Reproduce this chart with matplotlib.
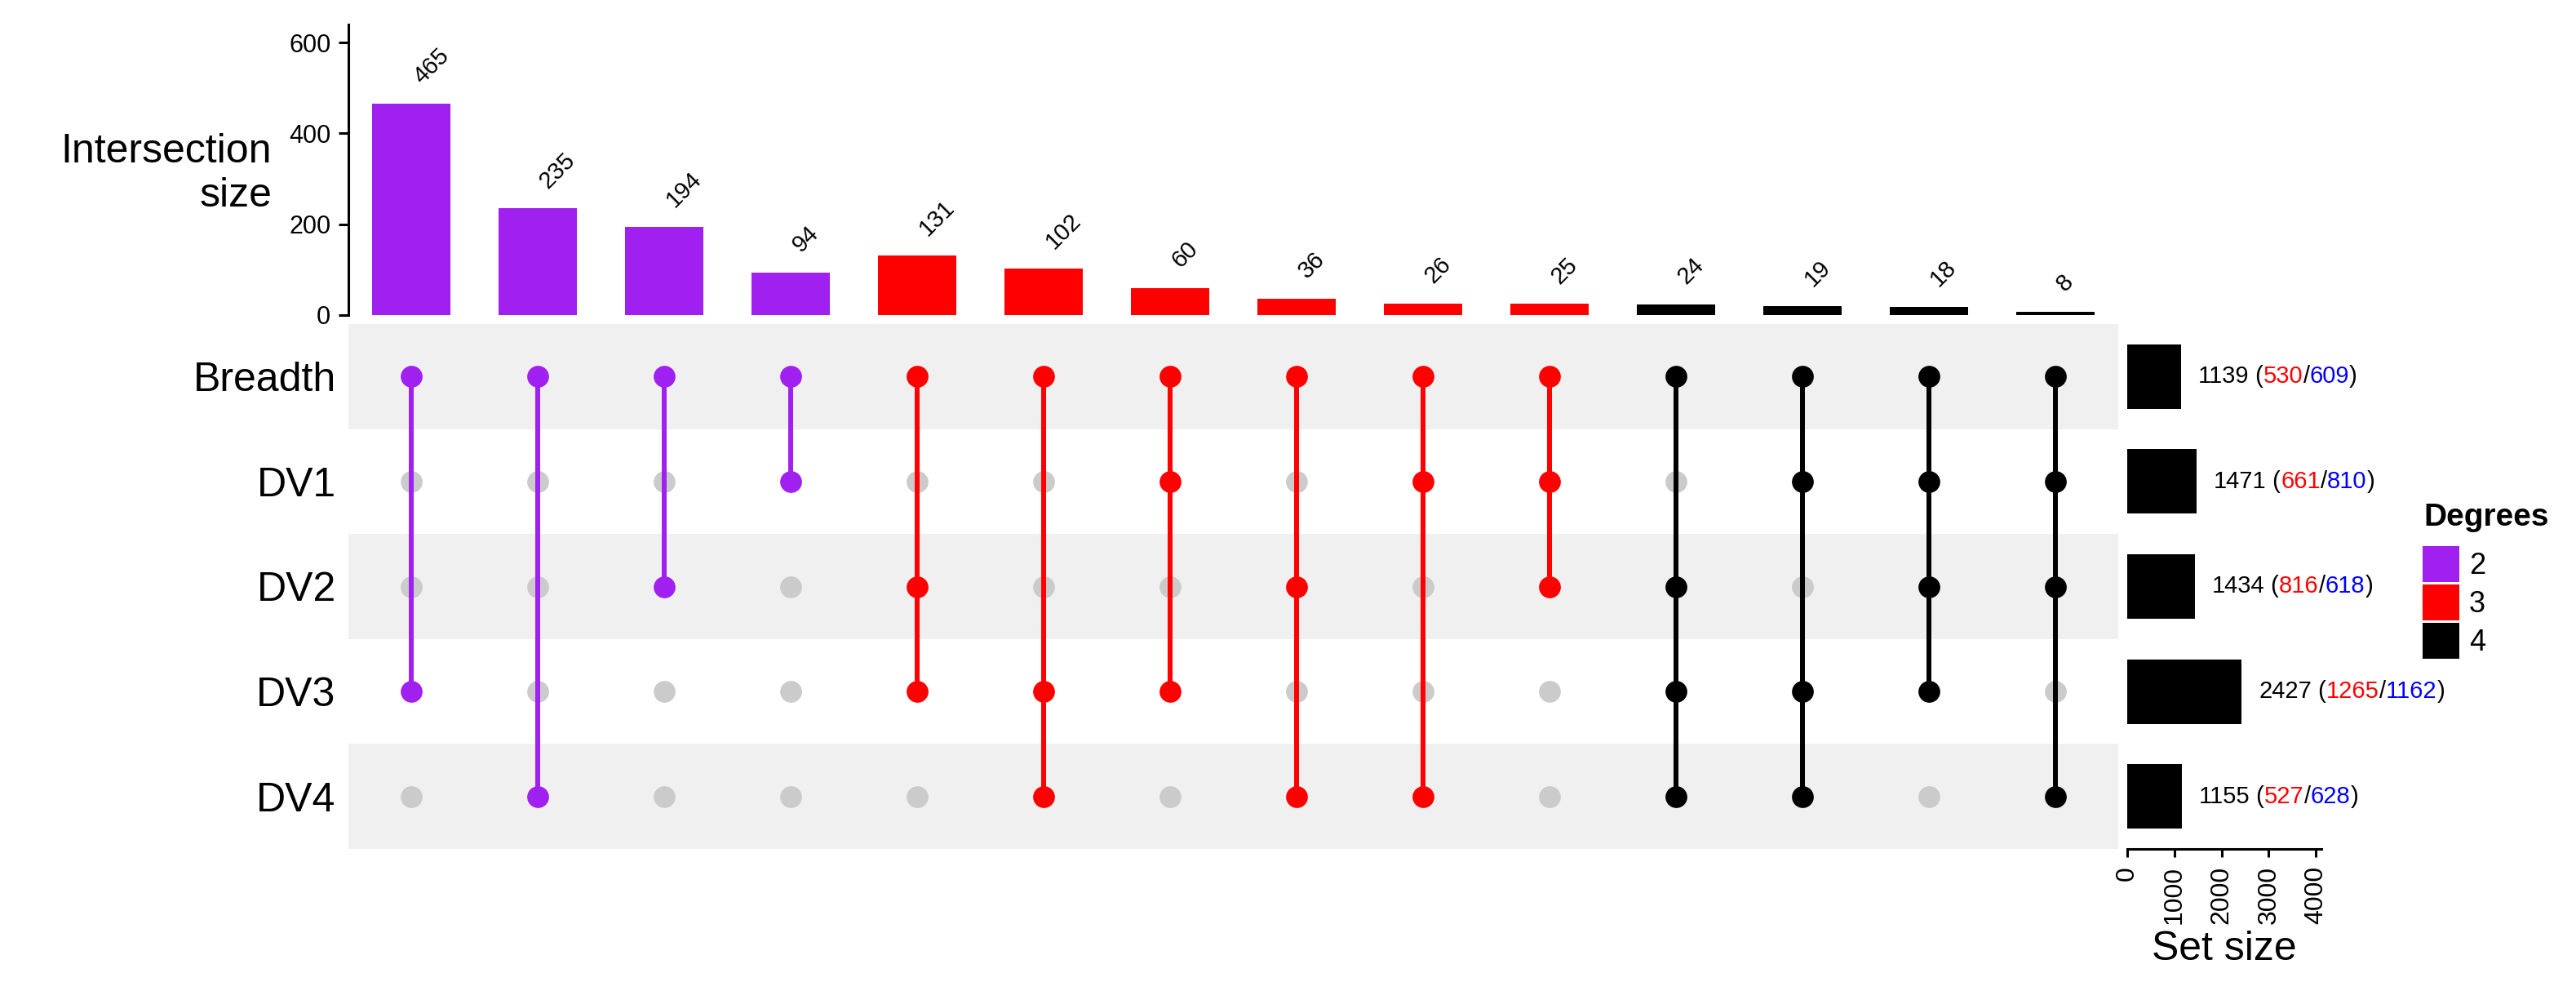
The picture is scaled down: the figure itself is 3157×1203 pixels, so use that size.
import matplotlib
matplotlib.use('Agg')
import matplotlib.pyplot as plt
from matplotlib.patches import Patch

plt.rcParams['font.family'] = ['Liberation Sans', 'DejaVu Sans']

# sets, top to bottom in the matrix
set_names = ['Breadth', 'DV1', 'DV2', 'DV3', 'DV4']
set_sizes = [1139, 1471, 1434, 2427, 1155]
set_part_a = [530, 661, 816, 1265, 527]     # red part of the label
set_part_b = [609, 810, 618, 1162, 628]     # blue part of the label

# intersections, left to right
inter_members = [
    ['Breadth', 'DV3'],
    ['Breadth', 'DV4'],
    ['Breadth', 'DV2'],
    ['Breadth', 'DV1'],
    ['Breadth', 'DV2', 'DV3'],
    ['Breadth', 'DV3', 'DV4'],
    ['Breadth', 'DV1', 'DV3'],
    ['Breadth', 'DV2', 'DV4'],
    ['Breadth', 'DV1', 'DV4'],
    ['Breadth', 'DV1', 'DV2'],
    ['Breadth', 'DV2', 'DV3', 'DV4'],
    ['Breadth', 'DV1', 'DV3', 'DV4'],
    ['Breadth', 'DV1', 'DV2', 'DV3'],
    ['Breadth', 'DV1', 'DV2', 'DV4'],
]
inter_sizes = [465, 235, 194, 94, 131, 102, 60, 36, 26, 25, 24, 19, 18, 8]

degree_colors = {2: '#A020F0', 3: '#FF0000', 4: '#000000'}
grey_dot = '#CBCBCB'
band = '#F0F0F0'

W, H = 3157, 1203
fig = plt.figure(figsize=(W / 100, H / 100), dpi=100)


def box(x0, y0, x1, y1):
    return [x0 / W, 1 - y1 / H, (x1 - x0) / W, (y1 - y0) / H]


ax_bar = fig.add_axes(box(427, 30, 2596, 386))
ax_mat = fig.add_axes(box(427, 397, 2596, 1040))
ax_set = fig.add_axes(box(2607, 397, 2845, 1040))

n = len(inter_sizes)
xs = list(range(1, n + 1))
ypos = {s: len(set_names) - 1 - i for i, s in enumerate(set_names)}
cols = [degree_colors[len(m)] for m in inter_members]

# intersection size bars
ax_bar.bar(xs, inter_sizes, width=0.62, color=cols)
for x, v in zip(xs, inter_sizes):
    ax_bar.annotate(str(v), (x, v), xytext=(5, 21), textcoords='offset points',
                    rotation=45, rotation_mode='anchor', ha='left', va='center',
                    fontsize=21)
ax_bar.set_xlim(0.5, n + 0.5)
ax_bar.set_ylim(0, 640)
ax_bar.set_yticks([0, 200, 400, 600])
ax_bar.set_xticks([])
for s in ['top', 'right', 'bottom']:
    ax_bar.spines[s].set_visible(False)
ax_bar.spines['left'].set_linewidth(2.2)
ax_bar.tick_params(axis='y', labelsize=22, length=8.6, width=2.2, pad=7)
fig.text(333 / W, 1 - 199 / H, 'Intersection', ha='right', va='baseline', fontsize=36)
fig.text(333 / W, 1 - 253 / H, 'size', ha='right', va='baseline', fontsize=36)

# matrix
for i, s in enumerate(set_names):
    if i % 2 == 0:
        ax_mat.axhspan(ypos[s] - 0.5, ypos[s] + 0.5, color=band, lw=0, zorder=0)
for x, members, c in zip(xs, inter_members, cols):
    off = [ypos[s] for s in set_names if s not in members]
    on = [ypos[s] for s in members]
    ax_mat.scatter([x] * len(off), off, s=370, color=grey_dot, lw=0, zorder=1)
    ax_mat.plot([x, x], [min(on), max(on)], color=c, lw=4.3, zorder=2)
    ax_mat.scatter([x] * len(on), on, s=370, color=c, lw=0, zorder=3)
ax_mat.set_xlim(0.5, n + 0.5)
ax_mat.set_ylim(-0.5, len(set_names) - 0.5)
ax_mat.set_xticks([])
ax_mat.set_yticks([ypos[s] for s in set_names])
ax_mat.set_yticklabels(set_names)
ax_mat.tick_params(axis='y', length=0, labelsize=36, pad=11)
for s in ax_mat.spines.values():
    s.set_visible(False)

# set size bars
ys = [ypos[s] for s in set_names]
ax_set.barh(ys, set_sizes, height=0.615, color='black')
for y, tot, a, b in zip(ys, set_sizes, set_part_a, set_part_b):
    t = ax_set.annotate(str(tot), (tot, y), xytext=(15, 0), textcoords='offset points',
                        ha='left', va='center', fontsize=21)
    for piece, c in [(' (', 'black'), (str(a), '#FF0000'), ('/', 'black'),
                     (str(b), '#0000FF'), (')', 'black')]:
        t = ax_set.annotate(piece, xy=(1, 0), xycoords=t, ha='left', va='bottom',
                            fontsize=21, color=c)
ax_set.set_ylim(-0.5, len(set_names) - 0.5)
ax_set.set_xlim(0, 4120)
ax_set.set_xticks([0, 1000, 2000, 3000, 4000])
ax_set.set_yticks([])
ax_set.tick_params(axis='x', labelsize=23, length=7, width=2.2, pad=8, labelrotation=90)
for s in ['top', 'right', 'left']:
    ax_set.spines[s].set_visible(False)
ax_set.spines['bottom'].set_linewidth(2.2)
ax_set.set_xlabel('Set size', fontsize=36, labelpad=6)

# legend
fig.text(2970 / W, 1 - 644 / H, 'Degrees', ha='left', va='baseline',
         fontsize=28, fontweight='bold')
handles = [Patch(facecolor=degree_colors[d], edgecolor='none') for d in (2, 3, 4)]
fig.legend(handles, ['2', '3', '4'], loc='upper left',
           bbox_to_anchor=(2969 / W, 1 - 669 / H), frameon=False, fontsize=26,
           handlelength=1.25, handleheight=1.5, labelspacing=0.085, handletextpad=0.33,
           borderpad=0, borderaxespad=0)

fig.savefig('out.png', dpi=100)
